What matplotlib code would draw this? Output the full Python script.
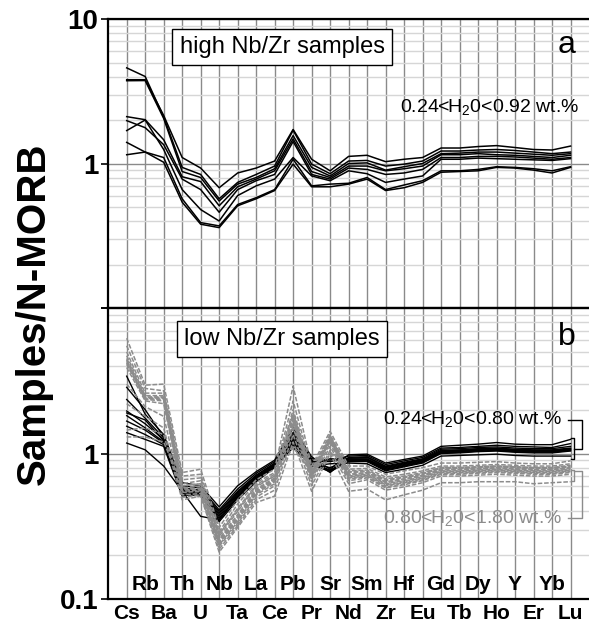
# encoding="utf-8"
# N-MORB normalised spider diagram, high / low Nb/Zr samples

import matplotlib
matplotlib.use("Agg")
import matplotlib.pyplot as plt
from matplotlib.ticker import LogLocator, NullFormatter
import numpy as np

plt.rcParams['font.family'] = ['Liberation Sans', 'DejaVu Sans']
plt.rcParams['mathtext.fontset'] = 'custom'
plt.rcParams['mathtext.rm'] = 'Liberation Sans'
plt.rcParams['mathtext.it'] = 'Liberation Sans:italic'

elements = ["Cs", "Rb", "Ba", "Th", "U", "Nb", "Ta", "La", "Ce", "Pb", "Pr", "Sr", "Nd",
            "Sm", "Zr", "Hf", "Eu", "Gd", "Tb", "Dy", "Ho", "Y", "Er", "Yb", "Lu"]

# panel a : one row per element, one column per sample
high_nbzr = [
    [3.80, 4.59, 3.74, 2.11, 1.98, 1.69, 1.40, 1.15],  # Cs
    [3.80, 4.00, 3.75, 2.01, 1.77, 2.00, 1.20, 1.20],  # Rb
    [2.15, 2.10, 2.05, 1.46, 1.35, 1.25, 1.10, 1.02],  # Ba
    [1.10, 0.94, 0.88, 0.81, 0.78, 0.66, 0.57, 0.54],  # Th
    [0.93, 0.84, 0.80, 0.75, 0.66, 0.48, 0.39, 0.38],  # U
    [0.68, 0.57, 0.55, 0.51, 0.46, 0.40, 0.37, 0.36],  # Nb
    [0.86, 0.74, 0.72, 0.69, 0.66, 0.60, 0.52, 0.51],  # Ta
    [0.93, 0.84, 0.80, 0.78, 0.76, 0.70, 0.58, 0.57],  # La
    [1.04, 0.96, 0.92, 0.89, 0.84, 0.78, 0.66, 0.65],  # Ce
    [1.72, 1.70, 1.56, 1.48, 1.42, 1.10, 1.07, 0.99],  # Pb
    [1.07, 0.99, 0.94, 0.88, 0.84, 0.82, 0.70, 0.69],  # Pr
    [0.89, 0.85, 0.82, 0.80, 0.78, 0.76, 0.72, 0.69],  # Sr
    [1.12, 1.04, 1.00, 0.96, 0.93, 0.89, 0.73, 0.72],  # Nd
    [1.14, 1.05, 1.01, 0.96, 0.91, 0.85, 0.80, 0.78],  # Sm
    [1.03, 0.96, 0.90, 0.89, 0.84, 0.74, 0.66, 0.65],  # Zr
    [1.07, 0.99, 0.95, 0.92, 0.86, 0.78, 0.71, 0.68],  # Hf
    [1.10, 1.04, 1.00, 0.96, 0.91, 0.82, 0.76, 0.74],  # Eu
    [1.28, 1.22, 1.17, 1.15, 1.10, 1.07, 0.89, 0.87],  # Gd
    [1.28, 1.22, 1.18, 1.15, 1.10, 1.07, 0.89, 0.88],  # Tb
    [1.31, 1.24, 1.20, 1.17, 1.12, 1.09, 0.91, 0.89],  # Dy
    [1.33, 1.25, 1.20, 1.15, 1.12, 1.08, 0.95, 0.94],  # Ho
    [1.29, 1.23, 1.18, 1.14, 1.11, 1.07, 0.94, 0.93],  # Y
    [1.25, 1.20, 1.16, 1.12, 1.09, 1.06, 0.92, 0.90],  # Er
    [1.24, 1.17, 1.14, 1.10, 1.07, 1.05, 0.89, 0.86],  # Yb
    [1.32, 1.20, 1.17, 1.14, 1.10, 1.08, 0.95, 0.94],  # Lu
]

# panel b, 0.24 < H2O < 0.80 wt.% (black)
low_nbzr_dry = [
    [3.40, 2.85, 2.35, 1.96, 1.90, 1.82, 1.67, 1.54, 1.39, 1.18],  # Cs
    [1.86, 2.00, 1.75, 1.60, 1.70, 1.50, 1.45, 1.35, 1.25, 1.06],  # Rb
    [1.35, 1.30, 1.28, 1.25, 1.22, 1.20, 1.18, 1.15, 1.12, 0.82],  # Ba
    [0.63, 0.60, 0.58, 0.56, 0.57, 0.55, 0.54, 0.53, 0.51, 0.55],  # Th
    [0.60, 0.58, 0.56, 0.55, 0.54, 0.53, 0.52, 0.51, 0.53, 0.37],  # U
    [0.43, 0.41, 0.40, 0.39, 0.38, 0.37, 0.36, 0.35, 0.34, 0.35],  # Nb
    [0.60, 0.57, 0.55, 0.54, 0.53, 0.52, 0.51, 0.50, 0.48, 0.50],  # Ta
    [0.75, 0.73, 0.71, 0.70, 0.69, 0.68, 0.67, 0.66, 0.64, 0.66],  # La
    [0.90, 0.88, 0.86, 0.85, 0.84, 0.83, 0.82, 0.81, 0.80, 0.81],  # Ce
    [1.50, 1.40, 1.35, 1.30, 1.25, 1.22, 1.20, 1.15, 1.10, 1.20],  # Pb
    [0.95, 0.92, 0.90, 0.88, 0.87, 0.86, 0.85, 0.84, 0.82, 0.86],  # Pr
    [0.78, 0.90, 0.74, 0.88, 0.76, 0.92, 0.80, 0.75, 0.85, 0.77],  # Sr
    [0.98, 0.96, 0.94, 0.93, 0.92, 0.91, 0.90, 0.88, 0.86, 0.89],  # Nd
    [0.99, 0.97, 0.95, 0.94, 0.92, 0.91, 0.90, 0.88, 0.85, 0.89],  # Sm
    [0.86, 0.84, 0.82, 0.81, 0.80, 0.79, 0.78, 0.76, 0.74, 0.77],  # Zr
    [0.91, 0.89, 0.87, 0.86, 0.85, 0.84, 0.83, 0.81, 0.78, 0.82],  # Hf
    [0.96, 0.94, 0.92, 0.91, 0.90, 0.89, 0.88, 0.86, 0.83, 0.87],  # Eu
    [1.12, 1.09, 1.07, 1.05, 1.04, 1.03, 1.02, 1.00, 0.96, 1.01],  # Gd
    [1.14, 1.10, 1.08, 1.06, 1.05, 1.04, 1.03, 1.01, 0.97, 1.02],  # Tb
    [1.16, 1.12, 1.10, 1.08, 1.07, 1.06, 1.05, 1.03, 0.98, 1.04],  # Dy
    [1.19, 1.14, 1.11, 1.09, 1.08, 1.07, 1.06, 1.04, 0.99, 1.05],  # Ho
    [1.16, 1.12, 1.09, 1.07, 1.06, 1.05, 1.04, 1.02, 0.97, 1.03],  # Y
    [1.15, 1.11, 1.08, 1.06, 1.05, 1.04, 1.03, 1.01, 0.96, 1.02],  # Er
    [1.15, 1.10, 1.08, 1.06, 1.05, 1.04, 1.03, 1.01, 0.96, 1.02],  # Yb
    [1.25, 1.17, 1.12, 1.09, 1.08, 1.07, 1.06, 1.04, 0.96, 1.05],  # Lu
]

# panel b, 0.80 < H2O < 1.80 wt.% (grey, dashed)
low_nbzr_wet = [
    [6.2, 5.5, 5.0, 4.7, 4.5, 4.4, 4.3, 4.2, 4.1, 3.9, 3.0, 2.2, 1.45, 1.3],  # Cs
    [2.95, 2.8, 2.6, 2.5, 2.45, 2.42, 2.4, 2.38, 2.35, 2.3, 2.1, 1.8, 1.5, 1.3],  # Rb
    [3.0, 2.7, 2.6, 2.5, 2.45, 2.42, 2.4, 2.35, 2.3, 2.2, 1.8, 1.5, 1.35, 1.2],  # Ba
    [0.74, 0.70, 0.66, 0.62, 0.60, 0.58, 0.57, 0.56, 0.55, 0.54, 0.52, 0.50, 0.48, 0.60],  # Th
    [0.78, 0.72, 0.68, 0.65, 0.62, 0.60, 0.58, 0.57, 0.56, 0.55, 0.53, 0.52, 0.51, 0.62],  # U
    [0.31, 0.29, 0.28, 0.27, 0.26, 0.255, 0.25, 0.245, 0.24, 0.235, 0.23, 0.22, 0.21, 0.28],  # Nb
    [0.48, 0.45, 0.42, 0.40, 0.38, 0.37, 0.36, 0.355, 0.35, 0.34, 0.33, 0.32, 0.31, 0.41],  # Ta
    [0.66, 0.63, 0.61, 0.59, 0.57, 0.56, 0.55, 0.54, 0.53, 0.52, 0.50, 0.48, 0.46, 0.60],  # La
    [0.78, 0.74, 0.72, 0.70, 0.68, 0.67, 0.66, 0.65, 0.64, 0.62, 0.60, 0.56, 0.51, 0.70],  # Ce
    [2.9, 2.3, 2.0, 1.9, 1.85, 1.8, 1.75, 1.7, 1.65, 1.6, 1.5, 1.35, 1.2, 1.1],  # Pb
    [0.82, 0.78, 0.76, 0.74, 0.72, 0.71, 0.70, 0.69, 0.68, 0.66, 0.64, 0.60, 0.55, 0.75],  # Pr
    [1.42, 1.35, 1.32, 1.30, 1.29, 1.28, 1.27, 1.25, 1.22, 1.18, 1.12, 1.05, 1.0, 1.2],  # Sr
    [0.82, 0.78, 0.76, 0.74, 0.72, 0.71, 0.70, 0.69, 0.68, 0.67, 0.65, 0.62, 0.55, 0.75],  # Nd
    [0.82, 0.79, 0.77, 0.75, 0.74, 0.73, 0.72, 0.71, 0.70, 0.69, 0.68, 0.66, 0.57, 0.76],  # Sm
    [0.72, 0.69, 0.67, 0.65, 0.64, 0.63, 0.62, 0.61, 0.60, 0.59, 0.58, 0.56, 0.48, 0.66],  # Zr
    [0.76, 0.72, 0.70, 0.68, 0.67, 0.66, 0.65, 0.64, 0.63, 0.62, 0.61, 0.59, 0.52, 0.69],  # Hf
    [0.80, 0.76, 0.74, 0.72, 0.71, 0.70, 0.69, 0.68, 0.67, 0.66, 0.65, 0.63, 0.56, 0.73],  # Eu
    [0.86, 0.82, 0.80, 0.79, 0.78, 0.77, 0.76, 0.75, 0.74, 0.73, 0.72, 0.70, 0.63, 0.80],  # Gd
    [0.86, 0.82, 0.80, 0.79, 0.78, 0.77, 0.76, 0.75, 0.74, 0.73, 0.72, 0.70, 0.63, 0.80],  # Tb
    [0.87, 0.83, 0.81, 0.80, 0.79, 0.78, 0.77, 0.76, 0.75, 0.74, 0.73, 0.71, 0.64, 0.81],  # Dy
    [0.88, 0.84, 0.82, 0.81, 0.80, 0.79, 0.78, 0.77, 0.76, 0.75, 0.74, 0.72, 0.64, 0.82],  # Ho
    [0.86, 0.83, 0.81, 0.80, 0.79, 0.78, 0.77, 0.76, 0.75, 0.74, 0.73, 0.71, 0.64, 0.81],  # Y
    [0.85, 0.82, 0.80, 0.79, 0.78, 0.77, 0.76, 0.75, 0.74, 0.73, 0.72, 0.70, 0.62, 0.80],  # Er
    [0.85, 0.82, 0.80, 0.79, 0.78, 0.77, 0.76, 0.75, 0.74, 0.73, 0.72, 0.70, 0.63, 0.80],  # Yb
    [0.89, 0.85, 0.83, 0.81, 0.80, 0.79, 0.78, 0.77, 0.76, 0.75, 0.74, 0.72, 0.64, 0.82],  # Lu
]

x = np.arange(len(elements))
grey = "#8c8c8c"

fig = plt.figure(figsize=(5.89, 6.23), dpi=100)
ax1 = fig.add_axes([0.1837, 0.5056, 0.8163, 0.4639])
ax2 = fig.add_axes([0.1837, 0.0385, 0.8163, 0.4671])


# 坐标轴样式
def style_axis(ax, ylabels):
    ax.set_yscale("log")
    ax.set_ylim(0.1, 10)
    ax.set_xlim(-1, 25)
    ax.set_xticks(x)
    ax.set_xticklabels([])
    ax.tick_params(axis="x", length=0)
    ax.set_yticks([0.1, 1, 10])
    ax.set_yticklabels(ylabels, fontsize=20, fontweight="bold")
    ax.yaxis.set_minor_locator(LogLocator(base=10, subs=range(2, 10)))
    ax.yaxis.set_minor_formatter(NullFormatter())
    ax.tick_params(axis="y", which="major", length=5, width=1.2, pad=2)
    ax.tick_params(axis="y", which="minor", length=0)
    ax.grid(which="minor", axis="y", color="#d6d6d6", lw=1.0)
    ax.grid(which="major", axis="y", color="#8a8a8a", lw=1.0)
    ax.grid(which="major", axis="x", color="#8a8a8a", lw=1.0)
    ax.set_axisbelow(True)
    for s in ["left", "top", "bottom"]:
        ax.spines[s].set_linewidth(1.6)
    ax.spines["right"].set_visible(False)


style_axis(ax1, ["", "1", "10"])
style_axis(ax2, ["0.1", "1", ""])

for line in np.array(high_nbzr).T:
    ax1.plot(x, line, color="black", lw=1.1)

# 黑线在下，灰色虚线在上
for line in np.array(low_nbzr_dry).T:
    ax2.plot(x, line, color="black", lw=1.0)
for line in np.array(low_nbzr_wet).T:
    ax2.plot(x, line, color=grey, lw=1.1, ls=(0, (3, 1.2)))

# 元素标签，两行交错
for i, el in enumerate(elements):
    yy = -0.05 if i % 2 == 0 else 0.05
    ax2.text(i, yy, el, transform=ax2.get_xaxis_transform(), ha="center", va="center",
             fontsize=15, fontweight="bold")

box = dict(boxstyle="square,pad=0.3", fc="white", ec="black", lw=1.0)
ax1.text(8.4, 6.36, "high Nb/Zr samples", ha="center", va="center", fontsize=17, bbox=box)
ax2.text(8.4, 6.16, "low Nb/Zr samples", ha="center", va="center", fontsize=17, bbox=box)
ax1.text(23.8, 6.6, "a", ha="center", va="center", fontsize=23)
ax2.text(23.8, 6.3, "b", ha="center", va="center", fontsize=23)

ax1.text(24.45, 2.47, r"0.24<H$_2$0<0.92 wt.%", ha="right", va="center", fontsize=14)
ax2.text(23.55, 1.72, r"0.24<H$_2$0<0.80 wt.%", ha="right", va="center", fontsize=14)
ax2.text(23.55, 0.362, r"0.80<H$_2$0<1.80 wt.%", ha="right", va="center", fontsize=14, color=grey)

# 括号
ax2.plot([24.0, 24.18, 24.18, 24.0], [1.28, 1.28, 0.92, 0.92], color="black", lw=1.0, clip_on=False)
ax2.plot([24.18, 24.62, 24.62, 23.85], [1.077, 1.077, 1.70, 1.70], color="black", lw=1.0, clip_on=False)
ax2.plot([24.0, 24.18, 24.18, 24.0], [0.776, 0.776, 0.644, 0.644], color=grey, lw=1.0, clip_on=False)
ax2.plot([24.18, 24.62, 24.62, 23.85], [0.755, 0.755, 0.362, 0.362], color=grey, lw=1.0, clip_on=False)

fig.text(0.058, 0.497, "Samples/N-MORB", rotation=90, ha="center", va="center",
         fontsize=29, fontweight="bold")

fig.savefig("out.png", dpi=100)
